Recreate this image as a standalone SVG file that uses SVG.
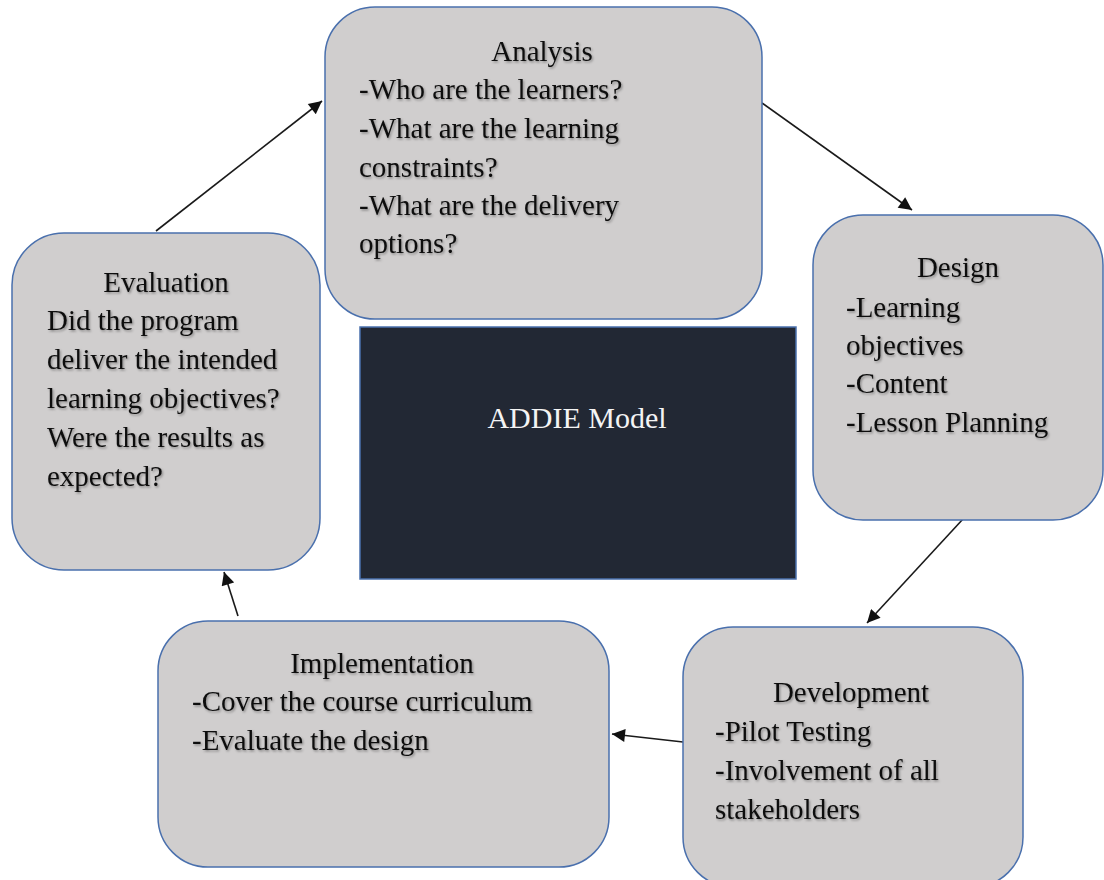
<svg xmlns="http://www.w3.org/2000/svg" width="1104" height="880" viewBox="0 0 1104 880">
  <defs>
    <style>
      .phase { fill: #d0cece; stroke: #4a70ad; stroke-width: 1.5; }
      .core { fill: #222834; stroke: #4a70ad; stroke-width: 1.5; }
      .txt { font-family: "Liberation Serif", "Times New Roman", serif; font-size: 29px; fill: #111; filter: url(#soft); }
      .title { text-anchor: middle; }
      .core-txt { font-family: "Liberation Serif", "Times New Roman", serif; font-size: 30px; fill: #f4f4f4; text-anchor: middle; }
      .link { stroke: #1a1a1a; stroke-width: 1.6; fill: none; marker-end: url(#head); }
    </style>
    <filter id="soft" x="-5%" y="-20%" width="110%" height="150%">
      <feDropShadow dx="1.2" dy="1.5" stdDeviation="1" flood-color="#000" flood-opacity="0.35"/>
    </filter>
    <marker id="head" viewBox="0 0 10 10" refX="10" refY="5" markerWidth="16" markerHeight="13" markerUnits="userSpaceOnUse" orient="auto">
      <path d="M0,0 L10,5 L0,10 z" fill="#111"/>
    </marker>
  </defs>

  <rect width="1104" height="880" fill="#ffffff"/>

  <!-- connectors between the five phases -->
  <g id="connectors">
    <line class="link" x1="762" y1="103" x2="912" y2="210"/>
    <line class="link" x1="963" y1="519" x2="867" y2="623"/>
    <line class="link" x1="683" y1="742" x2="612" y2="734"/>
    <line class="link" x1="238" y1="616" x2="224" y2="572"/>
    <line class="link" x1="156" y1="231" x2="322" y2="101"/>
  </g>

  <g id="analysis">
    <rect class="phase" x="325" y="7" width="437" height="312" rx="50" ry="50"/>
    <text class="txt title" x="542" y="61">Analysis</text>
    <text class="txt" x="359" y="99">-Who are the learners?</text>
    <text class="txt" x="359" y="138">-What are the learning</text>
    <text class="txt" x="359" y="177">constraints?</text>
    <text class="txt" x="359" y="215">-What are the delivery</text>
    <text class="txt" x="359" y="253">options?</text>
  </g>

  <g id="design">
    <rect class="phase" x="813" y="215" width="290" height="305" rx="50" ry="50"/>
    <text class="txt title" x="958" y="277">Design</text>
    <text class="txt" x="846" y="317">-Learning</text>
    <text class="txt" x="846" y="355">objectives</text>
    <text class="txt" x="846" y="393">-Content</text>
    <text class="txt" x="846" y="432">-Lesson Planning</text>
  </g>

  <g id="development">
    <rect class="phase" x="683" y="627" width="340" height="260" rx="50" ry="50"/>
    <text class="txt title" x="851" y="702">Development</text>
    <text class="txt" x="715" y="741">-Pilot Testing</text>
    <text class="txt" x="715" y="780">-Involvement of all</text>
    <text class="txt" x="715" y="819">stakeholders</text>
  </g>

  <g id="implementation">
    <rect class="phase" x="158" y="621" width="451" height="246" rx="50" ry="50"/>
    <text class="txt title" x="382" y="673">Implementation</text>
    <text class="txt" x="192" y="711">-Cover the course curriculum</text>
    <text class="txt" x="192" y="750">-Evaluate the design</text>
  </g>

  <g id="evaluation">
    <rect class="phase" x="12" y="233" width="308" height="337" rx="52" ry="52"/>
    <text class="txt title" x="166" y="292">Evaluation</text>
    <text class="txt" x="47" y="330">Did the program</text>
    <text class="txt" x="47" y="369">deliver the intended</text>
    <text class="txt" x="47" y="408">learning objectives?</text>
    <text class="txt" x="47" y="447">Were the results as</text>
    <text class="txt" x="47" y="486">expected?</text>
  </g>

  <g id="addie-model">
    <rect class="core" x="360" y="327" width="436" height="252"/>
    <text class="core-txt" x="577" y="428">ADDIE Model</text>
  </g>
</svg>
